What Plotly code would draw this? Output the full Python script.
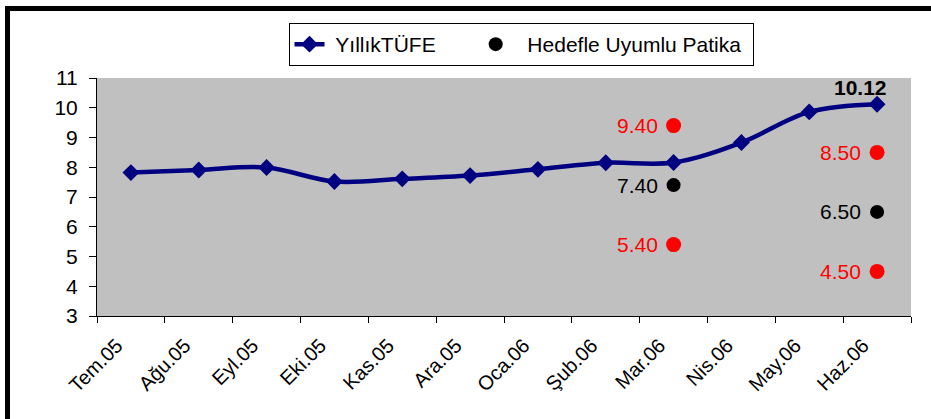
import plotly.graph_objects as go

months = ["Tem.05", "Ağu.05", "Eyl.05", "Eki.05", "Kas.05", "Ara.05",
          "Oca.06", "Şub.06", "Mar.06", "Nis.06", "May.06", "Haz.06"]
yillik_tufe = [7.82, 7.91, 7.99, 7.52, 7.61, 7.72, 7.93, 8.15, 8.16, 8.83, 9.86, 10.12]

target_months = ["Mar.06", "Haz.06"]
target_mid = [7.40, 6.50]
target_upper = [9.40, 8.50]
target_lower = [5.40, 4.50]

y_ticks = list(range(3, 12))

W, H = 931, 419
L, R, T, B = 97, 911, 78, 316

def px_x(p):
    return (p - L) / (R - L)

def px_y(p):
    return (B - p) / (B - T)

FONT = "Liberation Sans, Arial, sans-serif"
FS = 21
NB = "\u00a0"

fig = go.Figure()
fig.add_trace(go.Scatter(
    x=months, y=yillik_tufe, name=NB + "YıllıkTÜFE" + NB * 6, mode="lines+markers",
    line=dict(color="#000080", width=4.5, shape="spline", smoothing=1.0),
    marker=dict(symbol="diamond", size=13, color="#000080"),
))
fig.add_trace(go.Scatter(
    x=target_months, y=target_mid, name=NB * 2 + "Hedefle Uyumlu Patika" + NB, mode="markers",
    marker=dict(symbol="circle", size=14, color="black"),
))
fig.add_trace(go.Scatter(
    x=target_months + target_months, y=target_upper + target_lower, mode="markers",
    showlegend=False,
    marker=dict(symbol="circle", size=15, color="#FF0000"),
))

for m, v in zip(target_months, target_mid):
    fig.add_annotation(x=m, y=v, text=f"{v:.2f}", showarrow=False, xanchor="right",
                       xshift=-14, font=dict(size=FS, color="black", family=FONT))
for m, v in zip(target_months + target_months, target_upper + target_lower):
    fig.add_annotation(x=m, y=v, text=f"{v:.2f}", showarrow=False, xanchor="right",
                       xshift=-14, font=dict(size=FS, color="#FF0000", family=FONT))

fig.add_annotation(x=months[-1], y=yillik_tufe[-1], text=f"<b>{yillik_tufe[-1]:.2f}</b>",
                   showarrow=False, yshift=17, xshift=-17,
                   font=dict(size=FS, color="black", family=FONT))

fig.update_layout(
    width=W, height=H,
    margin=dict(l=L, r=W - R, t=T, b=H - B, pad=0),
    paper_bgcolor="white", plot_bgcolor="#C0C0C0",
    font=dict(family=FONT, size=FS, color="black"),
    showlegend=True,
    legend=dict(orientation="h", x=px_x(521), xanchor="center", y=px_y(23), yanchor="top",
                bordercolor="black", borderwidth=1, bgcolor="white",
                font=dict(size=FS, family=FONT), itemwidth=30,
                tracegroupgap=0),
    shapes=[
        dict(type="rect", xref="paper", yref="paper",
             x0=px_x(5), x1=px_x(940), y0=px_y(6), y1=px_y(11),
             fillcolor="black", line=dict(width=0)),
        dict(type="rect", xref="paper", yref="paper",
             x0=px_x(5), x1=px_x(10), y0=px_y(6), y1=px_y(430),
             fillcolor="black", line=dict(width=0)),
    ],
)
fig.update_xaxes(type="category", categoryorder="array", categoryarray=months,
                 range=[-0.5, 11.5], tickangle=-45, tickson="boundaries",
                 ticks="outside", ticklen=6, tickcolor="black",
                 showline=True, linecolor="black", linewidth=1,
                 showgrid=False, zeroline=False,
                 ticklabelstandoff=9, ticklabelshift=-14,
                 tickfont=dict(size=20, family=FONT))
fig.update_yaxes(range=[3, 11], tickvals=y_ticks, ticks="outside", ticklen=7,
                 tickcolor="black", showline=True, linecolor="black", linewidth=1,
                 showgrid=False, zeroline=False, ticklabelstandoff=7,
                 tickfont=dict(size=FS, family=FONT))

fig.write_html("out.html", config={"displayModeBar": False},
               post_script="document.body.style.margin='0';document.body.style.padding='0';")
